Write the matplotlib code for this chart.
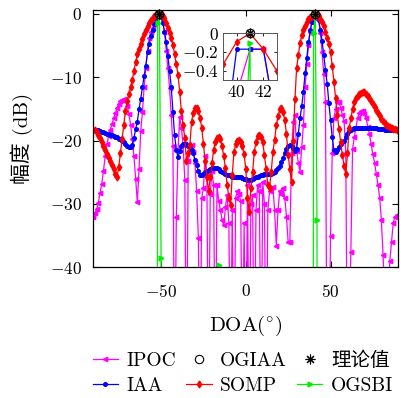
import matplotlib.pyplot as plt
import numpy as np

plt.rcParams['font.family'] = ['cmr10', 'Noto Sans CJK SC']
plt.rcParams['mathtext.fontset'] = 'cm'
plt.rcParams['axes.formatter.use_mathtext'] = True

# DOA grid (degrees) and normalised spectra (dB)
doa = np.arange(-90, 91)

iaa = [
    -18.3, -18.3, -18.4, -18.4, -18.5, -18.6, -18.7, -18.8, -18.9, -19.0,
    -19.1, -19.2, -19.3, -19.4, -19.5, -19.7, -19.8, -20.0, -20.3, -20.5,
    -20.8, -21.0, -21.0, -20.7, -19.6, -18.2, -17.0, -15.0, -13.4, -11.6,
    -9.8, -8.2, -6.0, -4.8, -3.5, -2.6, -1.6, -0.9, -0.3, 0.0,
    -0.5, -1.4, -2.8, -4.4, -6.6, -9.0, -11.5, -15.5, -19.2, -21.5,
    -22.6, -21.6, -20.9, -20.6, -20.5, -20.6, -20.8, -21.0, -21.5, -22.0,
    -23.0, -23.9, -24.8, -25.5, -25.4, -25.2, -25.0, -24.8, -24.7, -24.5,
    -24.4, -24.4, -24.4, -24.4, -24.5, -24.8, -25.0, -25.1, -25.2, -25.4,
    -25.5, -25.6, -25.7, -25.7, -25.7, -25.7, -25.7, -25.8, -25.9, -26.0,
    -26.1, -26.2, -26.2, -26.2, -26.1, -25.9, -25.8, -25.7, -25.6, -25.5,
    -25.4, -25.3, -25.2, -25.2, -25.2, -25.2, -25.1, -24.9, -24.7, -24.4,
    -24.0, -23.4, -22.7, -22.0, -21.4, -20.9, -20.7, -20.8, -21.2, -21.7,
    -21.4, -19.0, -16.5, -14.6, -12.3, -9.4, -6.9, -4.5, -2.6, -1.3,
    -0.17, -0.17, -0.17, -1.0, -2.5, -4.3, -6.5, -8.8, -11.0, -14.0,
    -16.8, -19.5, -21.5, -21.8, -21.5, -21.0, -20.6, -20.3, -20.0, -19.5,
    -18.9, -18.5, -18.3, -18.1, -18.0, -18.0, -18.0, -18.0, -18.0, -18.0,
    -18.0, -18.0, -18.0, -18.0, -18.0, -18.0, -18.0, -18.0, -18.1, -18.1,
    -18.2, -18.2, -18.3, -18.3, -18.3, -18.4, -18.4, -18.4, -18.4, -18.4, -18.4,
]

somp = [
    -18.3, -18.4, -18.7, -19.1, -19.6, -20.2, -20.8, -21.5, -22.1, -22.7,
    -23.3, -23.9, -24.5, -25.2, -25.7, -24.2, -22.0, -19.8, -17.5, -15.3,
    -13.8, -12.6, -11.6, -10.4, -9.0, -7.6, -6.4, -5.5, -4.7, -3.9,
    -3.2, -2.5, -1.9, -1.4, -1.0, -0.7, -0.4, -0.2, -0.05, 0.0,
    -0.2, -0.4, -0.7, -1.4, -2.2, -3.0, -3.8, -5.0, -6.4, -8.0,
    -9.6, -12.4, -15.4, -17.5, -19.6, -23.3, -22.0, -20.7, -17.0, -15.6,
    -14.9, -14.9, -15.4, -16.5, -18.0, -20.5, -23.3, -25.8, -28.0, -25.8,
    -23.5, -21.5, -20.2, -19.6, -19.5, -19.8, -20.9, -22.5, -24.4, -27.0,
    -29.0, -30.2, -25.5, -21.8, -20.6, -20.0, -19.9, -20.2, -20.8, -22.2,
    -24.5, -29.0, -31.3, -27.5, -25.0, -21.8, -20.2, -19.3, -19.1, -19.4,
    -20.2, -22.3, -24.5, -27.0, -27.5, -25.0, -21.8, -19.9, -17.6, -16.2,
    -15.1, -14.8, -15.5, -16.8, -19.0, -22.3, -24.5, -26.5, -20.0, -13.5,
    -8.5, -6.5, -4.6, -3.4, -2.6, -1.9, -1.3, -0.9, -0.5, -0.33,
    -0.09, 0.0, -0.17, -0.4, -0.8, -1.3, -1.9, -2.8, -3.8, -4.8,
    -6.0, -8.2, -10.7, -13.3, -16.0, -18.2, -20.3, -22.3, -24.0, -25.3,
    -22.0, -18.0, -16.5, -15.0, -13.9, -13.3, -12.9, -12.7, -12.5, -12.4,
    -12.4, -12.6, -12.9, -13.3, -13.7, -14.2, -14.7, -15.2, -15.7, -16.2,
    -16.6, -16.9, -17.2, -17.5, -17.7, -17.9, -18.0, -18.1, -18.2, -18.3, -18.4,
]

ipoc = [
    -32.0, -31.5, -30.8, -29.8, -28.2, -26.8, -24.8, -22.5, -20.6, -19.3,
    -18.3, -17.4, -16.5, -15.7, -14.9, -14.2, -13.8, -13.6, -13.5, -13.8,
    -14.5, -15.8, -17.5, -19.8, -22.5, -26.0, -29.7, -24.5, -18.5, -15.5,
    -11.5, -8.5, -5.8, -3.8, -2.8, -2.2, -1.6, -1.0, -0.4, 0.0,
    -0.4, -1.2, -2.8, -5.8, -8.5, -11.7, -16.0, -20.9, -60.0, -32.0,
    -21.5, -16.3, -18.0, -20.7, -26.3, -60.0, -23.3, -21.5, -20.7, -21.8,
    -23.5, -28.0, -35.4, -60.0, -29.0, -27.5, -22.5, -25.5, -60.0, -28.5,
    -24.8, -27.0, -60.0, -27.0, -29.5, -31.0, -32.5, -33.4, -30.5, -28.6,
    -33.0, -60.0, -31.0, -60.0, -29.0, -28.0, -28.5, -29.5, -60.0, -33.0,
    -60.0, -27.0, -60.0, -30.0, -28.6, -60.0, -31.0, -27.0, -28.0, -60.0,
    -26.5, -30.0, -60.0, -31.0, -28.0, -27.5, -27.3, -31.0, -36.6, -31.0,
    -28.0, -28.5, -27.5, -29.0, -32.0, -36.0, -36.0, -22.0, -17.0, -16.0,
    -21.6, -23.5, -24.9, -21.0, -17.5, -11.6, -8.0, -4.9, -2.8, -1.3,
    -0.65, -0.17, -0.17, -1.0, -3.0, -6.0, -9.5, -13.9, -60.0, -60.0,
    -35.0, -22.0, -16.5, -15.0, -13.9, -13.9, -14.8, -16.0, -16.9, -22.0,
    -60.0, -50.0, -37.6, -21.4, -19.5, -18.0, -16.4, -15.6, -15.4, -15.4,
    -15.8, -16.5, -17.8, -19.0, -20.6, -22.2, -23.5, -25.2, -27.0, -29.0,
    -32.5, -38.0, -45.0, -60.0, -45.0, -39.0, -36.0, -33.0, -32.0, -31.8, -31.8,
]

# OGSBI is essentially zero (very low dB) except at a few grid points
ogsbi_doa = [-90, -53, -52, -51, -50, -49, -17, -16, -15, 39, 40, 41, 42, 43, 90]
ogsbi_db = [-300, -300, -1.5, 0.0, -38.6, -300, -300, -39.6, -300,
            -300, -3.0, -0.1, -32.6, -300, -300]

ogiaa_doa = [-51, 41]
ogiaa_db = [0.0, 0.0]
true_doa = [-51, 41]
true_db = [0.0, 0.0]

xticks = [-50, 0, 50]
yticks = [-40, -30, -20, -10, 0]
inset_xticks = [40, 42]
inset_yticks = [-0.4, -0.2, 0]
inset_ylabels = ['$-0.4$', '$-0.2$', '$0$']

lw = 0.9
star = (8, 2, 0)


def draw(a):
    h = {}
    h['IPOC'], = a.plot(doa, ipoc, color='#ff00ff', marker='<', ms=3.2, lw=lw)
    h['IAA'], = a.plot(doa, iaa, color='#0000ff', marker='o', ms=2.6, lw=lw)
    h['SOMP'], = a.plot(doa, somp, color='#ff0000', marker='d', ms=3.5, lw=lw)
    h['OGSBI'], = a.plot(ogsbi_doa, ogsbi_db, color='#00ee00', marker='>',
                         ms=3.5, lw=lw)
    h['OGIAA'], = a.plot(ogiaa_doa, ogiaa_db, ls='none', marker='o', ms=6,
                         mfc='none', mec='black', mew=0.8, clip_on=False)
    h['理论值'], = a.plot(true_doa, true_db, ls='none', marker=star, ms=7,
                         color='black', mew=0.8, clip_on=False)
    return h


fig = plt.figure(figsize=(4.02, 3.98), dpi=100)
ax = fig.add_axes([0.2321, 0.3284, 0.7587, 0.6465])
handles = draw(ax)
ax.set_xlim(-90, 90)
ax.set_ylim(-40, 0.6)
ax.set_xticks(xticks)
ax.set_yticks(yticks)
ax.tick_params(direction='in', top=True, right=True, length=4, width=0.8,
               labelsize=12.5)
ax.tick_params(axis='y', pad=8)
ax.tick_params(axis='x', pad=11)
for s in ax.spines.values():
    s.set_linewidth(0.9)
ax.set_xlabel('DOA($^{\\circ}$)', fontsize=15, labelpad=10)
ax.set_ylabel('幅度 (dB)', fontsize=15, labelpad=12)

axin = fig.add_axes([0.5555, 0.799, 0.1328, 0.1173])
draw(axin)
axin.set_xlim(39, 43)
axin.set_ylim(-0.5, 0)
axin.set_xticks(inset_xticks)
axin.set_yticks(inset_yticks)
axin.set_yticklabels(inset_ylabels)
axin.tick_params(direction='in', top=True, right=True, length=2.5, width=0.6,
                 labelsize=12.5, pad=3)
for s in axin.spines.values():
    s.set_linewidth(0.7)
    s.set_color('#555555')

order = ['IPOC', 'IAA', 'OGIAA', 'SOMP', '理论值', 'OGSBI']
fig.legend([handles[k] for k in order], order, ncol=3, loc='center',
           bbox_to_anchor=(243 / 402, 1 - 373 / 398), frameon=False,
           fontsize=14, handlelength=1.3, handletextpad=0.45,
           columnspacing=0.5, labelspacing=0.35, borderpad=0)

fig.savefig('out.png', dpi=100)
